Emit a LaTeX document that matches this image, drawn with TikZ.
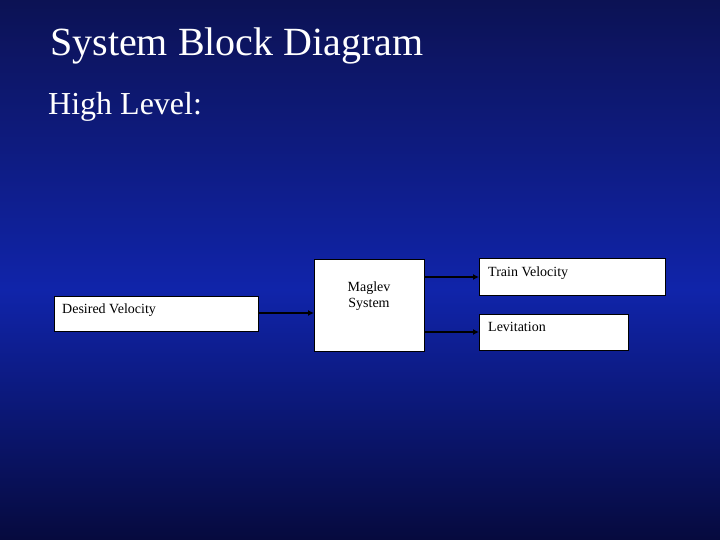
\documentclass[tikz,border=0pt]{standalone}
\usepackage{fontspec}
\setmainfont{Liberation Serif}
\usetikzlibrary{arrows.meta}
\definecolor{bgtop}{RGB}{12,18,84}
\definecolor{bgmid}{RGB}{16,36,170}
\definecolor{bgbot}{RGB}{6,10,62}
\begin{document}
\begin{tikzpicture}[x=1pt,y=-1pt,
  blk/.style={draw=black,fill=white,line width=0.6pt},
  lbl/.style={font=\fontsize{14}{16}\selectfont,inner sep=0pt},
  conn/.style={draw=black,line width=1.3pt,-{Latex[length=6pt,width=6pt]}}]
\useasboundingbox (0,0) rectangle (720,540);
\shade[top color=bgtop,bottom color=bgmid] (0,0) rectangle (720,290);
\shade[top color=bgmid,bottom color=bgbot] (0,289.5) rectangle (720,540);
\node[anchor=base west,text=white,font=\fontsize{40}{44}\selectfont,inner sep=0pt] (title) at (50,56) {System Block Diagram};
\node[anchor=base west,text=white,font=\fontsize{32}{36}\selectfont,inner sep=0pt] (hl) at (48,115) {High Level:};
\draw[blk] (54,296) rectangle (258,331);
\coordinate (dvL) at (54,313); \coordinate (dvR) at (258,313);
\node[lbl,anchor=base west] (dv) at (62,313) {Desired Velocity};
\draw[blk] (314,259) rectangle (424,351);
\node[lbl,align=center] (mg) at (369,296) {Maglev\\System};
\draw[blk] (479,258) rectangle (665,295);
\node[lbl,anchor=base west] (tv) at (488,276) {Train Velocity};
\draw[blk] (479,314) rectangle (628,350);
\node[lbl,anchor=base west] (lv) at (488,331) {Levitation};
\coordinate (mgL) at (314,313);
\coordinate (mgA) at (424,277); \coordinate (tvL) at (479,277);
\coordinate (mgB) at (424,332); \coordinate (lvL) at (479,332);
\draw[conn] (dvR) -- (mgL);
\draw[conn] (mgA) -- (tvL);
\draw[conn] (mgB) -- (lvL);
\end{tikzpicture}
\end{document}
